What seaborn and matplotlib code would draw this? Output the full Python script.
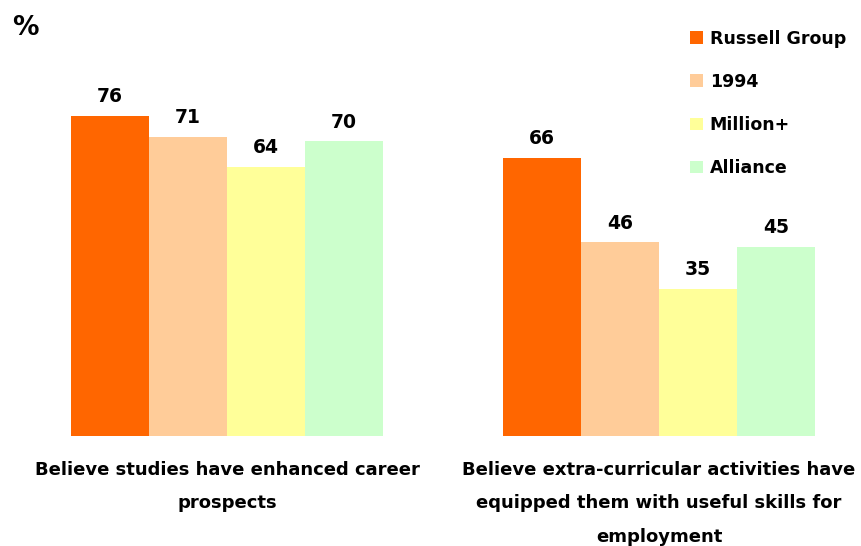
import matplotlib
matplotlib.use("Agg")
import matplotlib.pyplot as plt
import seaborn as sns
import pandas as pd

# data
categories = ["Believe studies have enhanced career\nprospects",
              "Believe extra-curricular activities have\nequipped them with useful skills for\nemployment"]
groups = ["Russell Group", "1994", "Million+", "Alliance"]
values = {
    "Russell Group": [76, 66],
    "1994": [71, 46],
    "Million+": [64, 35],
    "Alliance": [70, 45],
}
colors = ["#FF6600", "#FFCC99", "#FFFF99", "#CCFFCC"]

rows = []
for g in groups:
    for c, v in zip(categories, values[g]):
        rows.append({"category": c, "group": g, "value": v})
df = pd.DataFrame(rows)

sns.set_style("white")
plt.rcParams['font.family'] = ['DejaVu Sans']
plt.rcParams['font.weight'] = 'bold'
plt.rcParams['text.color'] = 'black'
plt.rcParams['xtick.color'] = 'black'

fig = plt.figure(figsize=(8.61, 5.46), dpi=100)
ax = fig.add_axes([11 / 861, 110 / 546, 850 / 861, 421 / 546])

sns.barplot(data=df, x="category", y="value", hue="group", hue_order=groups,
            palette=colors, width=0.722, saturation=1, ax=ax, edgecolor="none",
            linewidth=0)

ax.set_xlim(-0.5, -0.5 + 850 / 432)
ax.set_ylim(0, 100)
ax.set_xlabel("")
ax.set_ylabel("")
ax.set_yticks([])
sns.despine(ax=ax, left=True, bottom=True)
ax.tick_params(axis="x", length=0, pad=18)
for lab in ax.get_xticklabels():
    lab.set_fontsize(13)
    lab.set_fontweight("bold")
    lab.set_color("black")
    lab.set_linespacing(2.1)

for cont in ax.containers:
    ax.bar_label(cont, fontsize=13.5, fontweight="bold", padding=7, color="black")

handles, labels = ax.get_legend_handles_labels()
ax.legend(handles, labels, loc="upper left", bbox_to_anchor=(674 / 861, 1 - 14 / 546),
          bbox_transform=fig.transFigure, frameon=False, handlelength=0.75,
          handleheight=0.75, handletextpad=0.4, labelspacing=1.45,
          prop={"size": 12.5, "weight": "bold"})

fig.text(12 / 861, 1 - 28 / 546, "%", fontsize=19, fontweight="bold", va="center",
         color="black")

fig.savefig("out.png", dpi=100)
